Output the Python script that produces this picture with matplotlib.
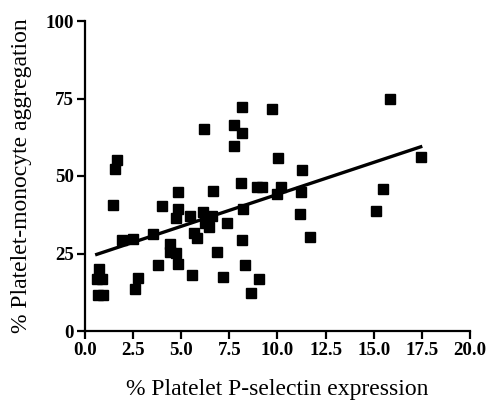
import matplotlib
matplotlib.use("Agg")
import matplotlib.pyplot as plt
import numpy as np

# % Platelet P-selectin expression
pselectin = [0.69, 0.92, 0.61, 0.86, 0.74, 1.47, 1.64, 1.56, 1.9, 2.51, 2.77, 2.6,
             3.55, 3.81, 4.02, 4.42, 4.42, 4.73, 4.81, 4.81, 4.81, 4.71, 5.45, 5.54,
             5.68, 5.83, 6.11, 6.23, 6.58, 6.46, 6.84, 6.67, 6.18, 7.19, 7.36, 7.76,
             7.76, 8.14, 8.14, 8.1, 8.19, 8.14, 8.31, 8.61, 9.06, 8.92, 9.18, 9.73,
             9.96, 10.04, 10.18, 11.29, 11.2, 11.17, 11.69, 15.84, 17.44, 15.46, 15.1]
# % Platelet-monocyte aggregation
aggregation = [11.5, 11.5, 16.9, 16.9, 20.0, 40.7, 55.1, 52.1, 29.2, 29.7, 17.1, 13.4,
               31.3, 21.2, 40.3, 28.1, 25.4, 25.1, 21.7, 44.7, 39.3, 36.3, 37.0, 18.2,
               31.5, 29.9, 38.3, 35.0, 37.0, 33.7, 25.6, 45.2, 65.2, 17.4, 34.7, 66.3,
               59.6, 72.2, 63.9, 47.9, 39.3, 29.2, 21.2, 12.4, 16.9, 46.6, 46.6, 71.6,
               44.1, 55.7, 46.5, 51.8, 44.7, 37.7, 30.2, 74.9, 56.2, 45.7, 38.8]

x = np.array(pselectin)
y = np.array(aggregation)
slope, intercept = np.polyfit(x, y, 1)

plt.rcParams["font.family"] = ["Liberation Serif", "DejaVu Serif"]

fig = plt.figure(figsize=(4.89, 4.12), dpi=100)
ax = fig.add_axes([85 / 489, 1 - 331 / 412, 385 / 489, 310 / 412])

ax.plot(x, y, "s", color="black", markersize=7.2, zorder=3, clip_on=False)
xl = np.array([x.min(), x.max()])
ax.plot(xl, intercept + slope * xl, color="black", linewidth=2.4, zorder=2)

ax.set_xlim(0, 20)
ax.set_ylim(0, 100)
ax.set_xticks(np.arange(0, 20.1, 2.5))
ax.set_yticks([0, 25, 50, 75, 100])
ax.set_xticklabels([f"{v:.1f}" for v in np.arange(0, 20.1, 2.5)])

for s in ["top", "right"]:
    ax.spines[s].set_visible(False)
for s in ["left", "bottom"]:
    ax.spines[s].set_linewidth(1.6)

ax.tick_params(direction="out", length=6, width=1.6, labelsize=13.6, pad=2)
for lab in ax.get_xticklabels() + ax.get_yticklabels():
    lab.set_fontweight("bold")

ax.set_xlabel("% Platelet P-selectin expression", fontsize=17)
ax.set_ylabel("% Platelet-monocyte aggregation", fontsize=17)
ax.xaxis.label.set_va("center")
ax.yaxis.label.set_va("center")
ax.xaxis.set_label_coords(0.5, (331 - 390) / 310)
ax.yaxis.set_label_coords((21 - 85) / 385, 0.5)

fig.savefig("out.png", dpi=100)
